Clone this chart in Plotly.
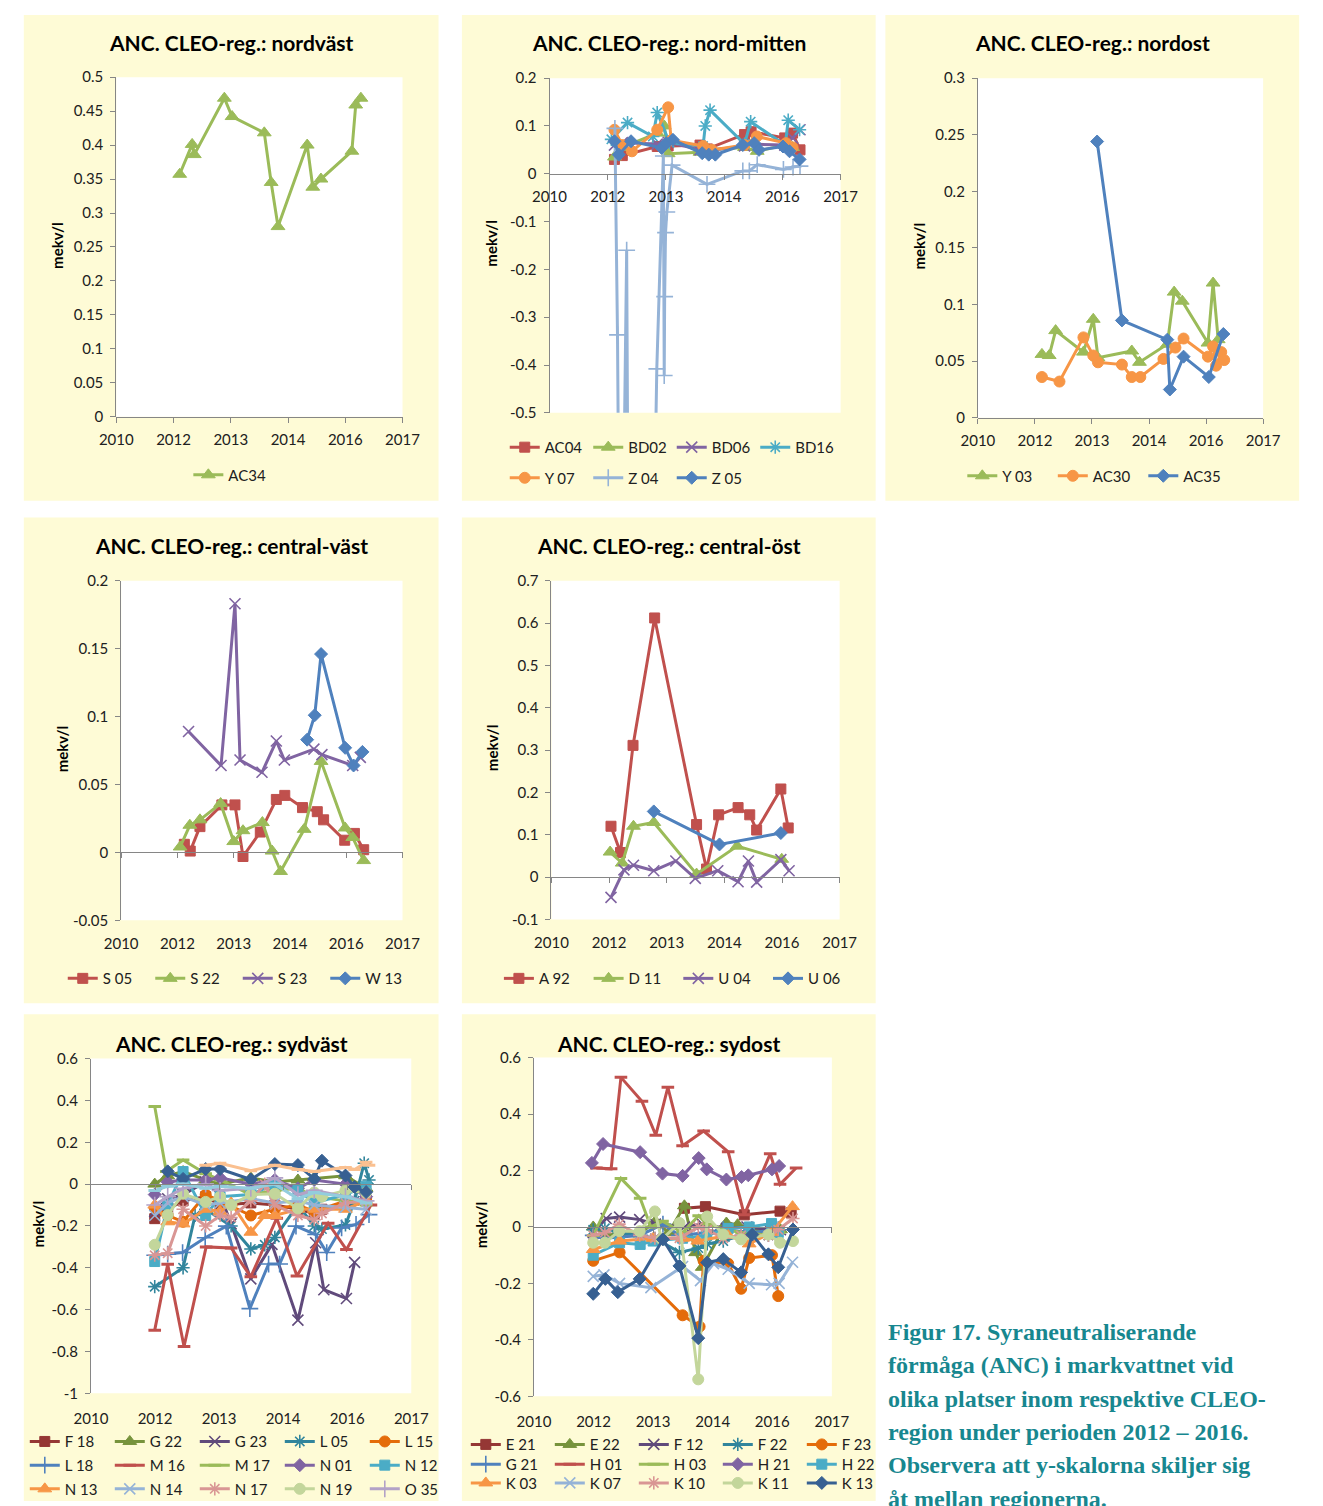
import numpy as np
import plotly.graph_objects as go

W, H = 1323, 1506
FONT = "Lato"
TEXT = "#202020"
AXIS_GREY = "#868686"
CREAM = "#FEFBD6"
CAPTION_COLOR = "#17878F"

# Date axis shared by every panel: decimal years, ticks every 16 months from Nov 2010
X_START = 2010 + 10 / 12
X_STEP = 16 / 12
X_TICKTEXT = ["2010", "2012", "2013", "2014", "2016", "2017"]

# Office palette: normal, darker and lighter shades
BLUE, RED, GREEN, PURPLE, AQUA, ORANGE = "#4F81BD", "#C0504D", "#9BBB59", "#8064A2", "#4BACC6", "#F79646"
D_BLUE, D_RED, D_GREEN, D_PURPLE, D_AQUA, D_ORANGE = "#376092", "#953735", "#77933C", "#604A7B", "#31859C", "#E46C0A"
L_BLUE, L_RED, L_GREEN, L_PURPLE, L_AQUA, L_ORANGE = "#95B3D7", "#D99694", "#C3D69B", "#B3A2C7", "#93CDDD", "#FAC090"

# ---------------- nordväst ----------------
t_AC34 = [2012.31, 2012.60, 2012.65, 2013.35, 2013.53, 2014.28, 2014.44, 2014.60, 2015.28, 2015.41, 2015.60, 2016.32, 2016.41, 2016.53]
v_AC34 = [0.357, 0.401, 0.386, 0.469, 0.442, 0.418, 0.345, 0.280, 0.400, 0.338, 0.350, 0.391, 0.459, 0.469]

# ---------------- nord-mitten ----------------
t_AC04 = [2012.32, 2012.50, 2013.30, 2013.55, 2014.28, 2014.45, 2015.30, 2015.45, 2016.22, 2016.40, 2016.57]
v_AC04 = [0.030, 0.038, 0.057, 0.058, 0.060, 0.052, 0.082, 0.088, 0.075, 0.085, 0.050]
t_BD02 = [2012.32, 2012.50, 2013.30, 2013.46, 2013.55, 2014.28, 2014.45, 2015.30, 2015.59, 2016.22, 2016.40]
v_BD02 = [0.035, 0.055, 0.085, 0.100, 0.042, 0.045, 0.050, 0.055, 0.047, 0.060, 0.055]
t_BD06 = [2012.32, 2012.50, 2013.30, 2013.55, 2014.28, 2014.45, 2015.30, 2015.45, 2016.22, 2016.40, 2016.57]
v_BD06 = [0.060, 0.065, 0.062, 0.066, 0.050, 0.048, 0.058, 0.062, 0.060, 0.075, 0.092]
t_BD16 = [2012.25, 2012.62, 2013.20, 2013.30, 2013.58, 2014.35, 2014.40, 2014.51, 2015.30, 2015.44, 2016.23, 2016.30, 2016.56]
v_BD16 = [0.072, 0.107, 0.078, 0.128, 0.065, 0.058, 0.100, 0.133, 0.062, 0.109, 0.060, 0.112, 0.092]
t_Y07 = [2012.32, 2012.50, 2012.72, 2013.30, 2013.55, 2013.62, 2014.35, 2014.55, 2015.30, 2015.58, 2016.25, 2016.40]
v_Y07 = [0.092, 0.060, 0.047, 0.092, 0.139, 0.070, 0.058, 0.050, 0.060, 0.078, 0.064, 0.055]
t_Z04 = [2012.33, 2012.39, 2012.46, 2012.60, 2012.66, 2013.20, 2013.29, 2013.44, 2013.46, 2013.47, 2013.49, 2013.52,
         2013.64, 2014.44, 2015.26, 2015.41, 2015.59, 2016.19, 2016.41, 2016.57]
v_Z04 = [0.095, -0.337, -1.200, -0.160, -1.300, -0.900, -0.408, 0.037, -0.422, -0.257, -0.123, -0.080,
         0.018, -0.022, 0.006, 0.006, 0.019, 0.009, 0.014, 0.016]
t_Z05 = [2012.32, 2012.42, 2012.70, 2013.40, 2013.51, 2013.66, 2014.33, 2014.48, 2014.63, 2015.26, 2015.52, 2015.63, 2016.18, 2016.33, 2016.56]
v_Z05 = [0.068, 0.040, 0.068, 0.054, 0.064, 0.071, 0.043, 0.040, 0.040, 0.060, 0.064, 0.050, 0.057, 0.047, 0.030]

# ---------------- nordost ----------------
t_Y03 = [2012.33, 2012.50, 2012.65, 2013.30, 2013.53, 2013.64, 2014.43, 2014.61, 2015.26, 2015.42, 2015.61, 2016.21, 2016.33, 2016.45]
v_Y03 = [0.056, 0.055, 0.077, 0.058, 0.087, 0.053, 0.059, 0.049, 0.065, 0.111, 0.103, 0.066, 0.119, 0.069]
t_AC30 = [2012.33, 2012.74, 2013.30, 2013.53, 2013.64, 2014.20, 2014.43, 2014.63, 2015.17, 2015.45, 2015.64, 2016.21, 2016.33, 2016.40, 2016.52, 2016.59]
v_AC30 = [0.036, 0.032, 0.071, 0.055, 0.049, 0.047, 0.036, 0.036, 0.052, 0.062, 0.070, 0.054, 0.063, 0.046, 0.058, 0.051]
t_AC35 = [2013.62, 2014.20, 2015.26, 2015.32, 2015.64, 2016.23, 2016.57]
v_AC35 = [0.244, 0.086, 0.069, 0.025, 0.054, 0.036, 0.074]

# ---------------- central-väst ----------------
t_S05 = [2012.33, 2012.47, 2012.70, 2013.22, 2013.53, 2013.72, 2014.13, 2014.51, 2014.71, 2015.13, 2015.48, 2015.63, 2016.13, 2016.36, 2016.58]
v_S05 = [0.006, 0.001, 0.019, 0.035, 0.035, -0.003, 0.015, 0.039, 0.042, 0.033, 0.030, 0.024, 0.009, 0.014, 0.002]
t_S22 = [2012.23, 2012.46, 2012.70, 2013.19, 2013.50, 2013.72, 2014.18, 2014.41, 2014.61, 2015.17, 2015.57, 2016.14, 2016.32, 2016.58]
v_S22 = [0.004, 0.020, 0.024, 0.036, 0.008, 0.016, 0.022, 0.001, -0.014, 0.017, 0.067, 0.018, 0.011, -0.006]
t_S23 = [2012.43, 2013.20, 2013.53, 2013.65, 2014.17, 2014.51, 2014.70, 2015.40, 2015.59, 2016.32, 2016.50]
v_S23 = [0.089, 0.064, 0.183, 0.068, 0.059, 0.082, 0.068, 0.076, 0.072, 0.064, 0.070]
t_W13 = [2015.24, 2015.42, 2015.57, 2016.14, 2016.34, 2016.55]
v_W13 = [0.083, 0.101, 0.146, 0.077, 0.064, 0.074]

# ---------------- central-öst ----------------
t_A92 = [2012.21, 2012.43, 2012.72, 2013.22, 2014.19, 2014.42, 2014.70, 2015.15, 2015.42, 2015.58, 2016.14, 2016.31]
v_A92 = [0.120, 0.058, 0.311, 0.612, 0.124, 0.019, 0.147, 0.164, 0.147, 0.111, 0.208, 0.116]
t_D11 = [2012.19, 2012.47, 2012.73, 2013.20, 2014.19, 2015.13, 2016.16]
v_D11 = [0.059, 0.033, 0.120, 0.129, 0.007, 0.073, 0.042]
t_U04 = [2012.21, 2012.51, 2012.73, 2013.20, 2013.71, 2014.16, 2014.68, 2015.15, 2015.39, 2015.58, 2016.14, 2016.33]
v_U04 = [-0.048, 0.017, 0.028, 0.015, 0.038, -0.003, 0.015, -0.011, 0.038, -0.012, 0.041, 0.015]
t_U06 = [2013.20, 2014.72, 2016.14]
v_U06 = [0.155, 0.077, 0.104]

# ---------------- sydväst ----------------
t_F18 = [2012.16, 2012.43, 2012.75, 2013.22, 2013.52, 2014.16, 2014.66, 2015.14, 2015.48, 2015.64, 2016.13, 2016.56]
v_F18 = [-0.165, -0.120, -0.080, -0.060, -0.100, -0.090, -0.100, -0.120, -0.140, -0.120, -0.100, -0.080]
t_G22 = [2012.16, 2012.43, 2012.75, 2013.22, 2013.52, 2014.16, 2014.66, 2015.14, 2015.48, 2016.13, 2016.56]
v_G22 = [0.000, 0.040, 0.060, 0.020, 0.000, 0.030, 0.010, 0.020, 0.030, 0.040, -0.020]
t_G23 = [2012.16, 2012.43, 2012.75, 2013.22, 2013.52, 2013.75, 2014.16, 2014.60, 2015.14, 2015.51, 2015.68, 2016.15, 2016.32]
v_G23 = [-0.130, -0.070, -0.050, 0.010, -0.050, -0.190, -0.453, -0.288, -0.650, -0.280, -0.505, -0.547, -0.374]
t_L05 = [2012.16, 2012.75, 2013.00, 2013.22, 2013.75, 2014.16, 2014.45, 2014.66, 2015.14, 2015.48, 2015.64, 2016.13, 2016.32, 2016.52, 2016.62]
v_L05 = [-0.490, -0.400, -0.150, -0.120, -0.200, -0.310, -0.290, -0.255, -0.100, -0.200, -0.215, -0.195, -0.080, 0.100, 0.020]
t_L15 = [2012.16, 2012.43, 2012.75, 2013.22, 2013.52, 2014.16, 2014.66, 2015.14, 2015.48, 2016.13, 2016.56]
v_L15 = [-0.115, -0.150, -0.180, -0.050, -0.080, -0.150, -0.120, -0.100, -0.130, -0.080, -0.070]
t_L18 = [2012.16, 2012.43, 2012.74, 2013.21, 2013.65, 2014.14, 2014.53, 2014.76, 2015.10, 2015.51, 2015.74, 2016.05, 2016.35, 2016.62]
v_L18 = [-0.340, -0.335, -0.327, -0.256, -0.201, -0.595, -0.382, -0.382, -0.201, -0.241, -0.327, -0.209, -0.193, -0.146]
t_M16 = [2012.16, 2012.43, 2012.77, 2013.23, 2013.75, 2014.16, 2014.70, 2015.12, 2015.77, 2016.15, 2016.66]
v_M16 = [-0.698, -0.383, -0.776, -0.300, -0.305, -0.443, -0.163, -0.439, -0.187, -0.313, -0.100]
t_M17 = [2012.16, 2012.40, 2012.75, 2013.22, 2013.52, 2014.16, 2014.66, 2015.14, 2015.48, 2016.13, 2016.56]
v_M17 = [0.371, 0.060, 0.115, 0.050, 0.020, -0.050, -0.030, -0.020, -0.060, -0.080, -0.100]
t_N01 = [2012.16, 2012.43, 2012.75, 2013.22, 2013.52, 2014.16, 2014.66, 2015.14, 2015.48, 2016.13, 2016.56]
v_N01 = [-0.050, 0.010, 0.020, 0.020, 0.030, 0.000, 0.020, -0.020, 0.020, 0.000, -0.060]
t_N12 = [2012.16, 2012.43, 2012.75, 2013.22, 2013.52, 2014.16, 2014.66, 2015.14, 2015.48, 2016.13, 2016.56]
v_N12 = [-0.370, -0.100, 0.060, -0.150, -0.060, -0.050, 0.000, -0.030, -0.090, -0.050, -0.010]
t_N13 = [2012.16, 2012.43, 2012.75, 2013.22, 2013.52, 2013.75, 2014.16, 2014.45, 2014.66, 2015.14, 2015.48, 2016.13, 2016.56]
v_N13 = [-0.100, -0.180, -0.190, -0.120, -0.130, -0.090, -0.230, -0.150, -0.150, -0.120, -0.120, -0.120, -0.080]
t_N14 = [2012.16, 2012.43, 2012.75, 2013.22, 2013.52, 2014.16, 2014.66, 2015.14, 2015.48, 2016.13, 2016.56]
v_N14 = [-0.150, -0.090, -0.060, -0.100, -0.090, -0.070, -0.090, -0.080, -0.100, -0.110, -0.120]
t_N17 = [2012.16, 2012.43, 2012.75, 2013.22, 2013.52, 2013.75, 2014.16, 2014.45, 2014.66, 2015.14, 2015.48, 2015.64, 2016.13, 2016.56]
v_N17 = [-0.340, -0.330, -0.120, -0.200, -0.150, -0.160, -0.080, 0.000, -0.100, -0.150, -0.170, -0.140, -0.090, -0.080]
t_N19 = [2012.16, 2012.43, 2012.75, 2013.22, 2013.52, 2013.75, 2014.16, 2014.66, 2015.14, 2015.48, 2015.64, 2016.13, 2016.56]
v_N19 = [-0.290, -0.148, -0.046, -0.085, -0.060, -0.100, -0.050, -0.046, -0.116, -0.040, -0.060, -0.030, -0.040]
t_O35 = [2012.16, 2012.43, 2012.75, 2013.22, 2013.52, 2014.16, 2014.66, 2015.14, 2015.48, 2016.13, 2016.56]
v_O35 = [-0.100, -0.060, -0.020, 0.000, -0.030, -0.020, 0.030, -0.050, -0.030, -0.060, -0.080]
# three further sydväst series whose legend entries fall outside the frame
t_SV16 = [2012.43, 2012.75, 2013.22, 2013.52, 2014.16, 2014.66, 2015.14, 2015.48, 2015.64, 2016.13, 2016.32, 2016.56]
v_SV16 = [0.061, 0.025, 0.072, 0.072, 0.022, 0.096, 0.091, 0.025, 0.112, 0.041, -0.014, -0.038]
t_SV17 = [2012.16, 2012.43, 2012.75, 2013.22, 2013.52, 2014.16, 2014.66, 2015.14, 2015.48, 2016.13, 2016.56]
v_SV17 = [-0.030, -0.010, 0.000, -0.020, -0.010, -0.020, 0.000, -0.070, -0.040, -0.060, -0.090]
t_SV18 = [2013.22, 2013.52, 2014.16, 2014.66, 2015.14, 2015.48, 2016.13, 2016.32, 2016.56, 2016.62]
v_SV18 = [0.090, 0.100, 0.064, 0.090, 0.070, 0.060, 0.080, 0.070, 0.104, 0.090]

# ---------------- sydost ----------------
t_E21 = [2014.20, 2014.67, 2015.54, 2016.34, 2016.59]
v_E21 = [0.066, 0.072, 0.043, 0.056, 0.050]
t_E22 = [2012.16, 2012.45, 2012.75, 2013.20, 2013.55, 2013.85, 2014.20, 2014.45, 2014.60, 2015.14, 2015.39, 2016.10, 2016.35]
v_E22 = [0.000, -0.030, -0.020, -0.025, 0.020, -0.020, 0.075, -0.091, -0.143, 0.014, 0.008, -0.020, -0.010]
t_F12 = [2012.16, 2012.45, 2012.75, 2013.20, 2013.55, 2014.20, 2014.60, 2015.14, 2015.60, 2016.10, 2016.35]
v_F12 = [-0.020, 0.030, 0.035, 0.026, 0.010, 0.000, 0.010, -0.005, 0.000, -0.010, -0.010]
t_F22 = [2012.16, 2012.42, 2012.74, 2013.20, 2013.54, 2014.09, 2014.51, 2014.71, 2015.07, 2015.47, 2016.08, 2016.30]
v_F22 = [-0.010, -0.005, -0.020, -0.030, -0.040, -0.090, -0.075, -0.060, -0.050, -0.030, -0.030, -0.020]
t_F23 = [2012.16, 2012.75, 2014.16, 2014.54, 2014.63, 2015.18, 2015.47, 2015.65, 2016.16, 2016.30]
v_F23 = [-0.120, -0.090, -0.313, -0.353, -0.120, -0.130, -0.219, -0.110, -0.100, -0.245]
t_G21 = [2012.16, 2012.42, 2013.20, 2013.72, 2014.09, 2014.71, 2015.07, 2015.72, 2016.30]
v_G21 = [-0.030, -0.040, -0.030, 0.010, -0.030, -0.020, -0.010, -0.020, -0.010]
t_H01 = [2012.23, 2012.56, 2012.78, 2013.25, 2013.56, 2013.83, 2014.16, 2014.63, 2015.18, 2015.54, 2016.12, 2016.34, 2016.70]
v_H01 = [0.209, 0.206, 0.530, 0.445, 0.325, 0.495, 0.288, 0.340, 0.266, 0.043, 0.259, 0.151, 0.209]
t_H03 = [2012.16, 2012.78, 2013.21, 2013.45, 2013.71, 2014.16, 2014.52, 2014.70, 2015.14, 2015.48, 2016.16, 2016.32]
v_H03 = [-0.030, 0.172, 0.102, 0.000, 0.020, -0.020, 0.040, 0.010, -0.010, -0.020, -0.030, -0.020]
t_H21 = [2012.13, 2012.38, 2013.21, 2013.71, 2014.16, 2014.52, 2014.70, 2015.14, 2015.48, 2015.63, 2016.16, 2016.32]
v_H21 = [0.227, 0.294, 0.265, 0.189, 0.181, 0.244, 0.204, 0.168, 0.177, 0.183, 0.204, 0.216]
t_H22 = [2012.16, 2012.75, 2013.21, 2013.50, 2014.16, 2014.70, 2015.18, 2015.65, 2016.15, 2016.30]
v_H22 = [-0.100, -0.056, -0.062, -0.050, -0.040, -0.030, -0.005, 0.000, 0.012, -0.020]
t_K03 = [2012.16, 2012.75, 2013.50, 2014.16, 2014.50, 2015.18, 2015.65, 2016.15, 2016.62]
v_K03 = [-0.080, -0.050, -0.040, -0.040, -0.050, -0.030, -0.060, -0.020, 0.072]
t_K07 = [2012.16, 2012.40, 2012.75, 2013.45, 2014.16, 2014.56, 2014.85, 2015.18, 2015.65, 2016.15, 2016.32, 2016.62]
v_K07 = [-0.175, -0.170, -0.200, -0.215, -0.140, -0.190, -0.130, -0.150, -0.200, -0.205, -0.200, -0.125]
t_K10 = [2012.16, 2012.42, 2012.74, 2013.20, 2013.54, 2014.09, 2014.51, 2014.71, 2015.07, 2015.47, 2016.08, 2016.30, 2016.63]
v_K10 = [-0.030, -0.020, 0.010, -0.030, -0.040, -0.040, 0.000, -0.010, -0.040, -0.030, -0.030, -0.010, 0.030]
t_K11 = [2012.16, 2012.42, 2012.74, 2013.20, 2013.54, 2013.69, 2014.09, 2014.51, 2014.71, 2015.07, 2015.47, 2016.08, 2016.34, 2016.63]
v_K11 = [-0.056, -0.056, -0.015, -0.015, 0.055, -0.044, 0.014, -0.540, 0.037, -0.027, -0.044, -0.027, -0.056, -0.050]
t_K13 = [2012.16, 2012.43, 2012.71, 2013.20, 2013.72, 2014.09, 2014.51, 2014.71, 2015.07, 2015.47, 2015.72, 2016.08, 2016.30, 2016.63]
v_K13 = [-0.237, -0.184, -0.231, -0.184, -0.044, -0.138, -0.394, -0.126, -0.114, -0.161, -0.027, -0.097, -0.143, -0.009]

# Marker shapes used by the series
MARKERS = {
    "square":   dict(symbol="square", size=10),
    "triangle": dict(symbol="triangle-up", size=12),
    "x":        dict(symbol="x-thin-open", size=11, lw=1.6),
    "star":     dict(symbol="asterisk-open", size=11, lw=1.6),
    "circle":   dict(symbol="circle", size=11),
    "plus":     dict(symbol="cross-thin-open", size=12, lw=1.6),
    "dash":     dict(symbol="line-ew-open", size=9, lw=3),
    "diamond":  dict(symbol="diamond", size=10),
}

# Panel layout: frame box and plot area in pixels (x0, y0, x1, y1)
PANELS = [
    dict(title="ANC. CLEO-reg.: nordväst", box=(7, 5, 433, 497), plot=(102, 68, 396, 412),
         yrange=(0, 0.5), dtick=0.05, low=False,
         series=[("AC34", t_AC34, v_AC34, GREEN, "triangle")],
         legend_rows=[(["AC34"], 182, 471)], spacing=84),
    dict(title="ANC. CLEO-reg.: nord-mitten", box=(457, 5, 882, 497), plot=(547, 69, 846, 408),
         yrange=(-0.5, 0.2), dtick=0.1, low=False,
         series=[("AC04", t_AC04, v_AC04, RED, "square"),
                 ("BD02", t_BD02, v_BD02, GREEN, "triangle"),
                 ("BD06", t_BD06, v_BD06, PURPLE, "x"),
                 ("BD16", t_BD16, v_BD16, AQUA, "star"),
                 ("Y 07", t_Y07, v_Y07, ORANGE, "circle"),
                 ("Z 04", t_Z04, v_Z04, L_BLUE, "plus"),
                 ("Z 05", t_Z05, v_Z05, BLUE, "diamond")],
         legend_rows=[(["AC04", "BD02", "BD06", "BD16"], 507, 443), (["Y 07", "Z 04", "Z 05"], 507, 474)],
         spacing=83.5),
    dict(title="ANC. CLEO-reg.: nordost", box=(892, 5, 1317, 497), plot=(987, 69, 1280, 413),
         yrange=(0, 0.3), dtick=0.05, low=False,
         series=[("Y 03", t_Y03, v_Y03, GREEN, "triangle"),
                 ("AC30", t_AC30, v_AC30, ORANGE, "circle"),
                 ("AC35", t_AC35, v_AC35, BLUE, "diamond")],
         legend_rows=[(["Y 03", "AC30", "AC35"], 977, 472)], spacing=90.5),
    dict(title="ANC. CLEO-reg.: central-väst", box=(7, 514, 433, 1006), plot=(107, 578, 396, 922),
         yrange=(-0.05, 0.2), dtick=0.05, low=True,
         series=[("S 05", t_S05, v_S05, RED, "square"),
                 ("S 22", t_S22, v_S22, GREEN, "triangle"),
                 ("S 23", t_S23, v_S23, PURPLE, "x"),
                 ("W 13", t_W13, v_W13, BLUE, "diamond")],
         legend_rows=[(["S 05", "S 22", "S 23", "W 13"], 53, 981)], spacing=87.5),
    dict(title="ANC. CLEO-reg.: central-öst", box=(457, 514, 882, 1006), plot=(549, 578, 845, 921),
         yrange=(-0.1, 0.7), dtick=0.1, low=True,
         series=[("A 92", t_A92, v_A92, RED, "square"),
                 ("D 11", t_D11, v_D11, GREEN, "triangle"),
                 ("U 04", t_U04, v_U04, PURPLE, "x"),
                 ("U 06", t_U06, v_U06, BLUE, "diamond")],
         legend_rows=[(["A 92", "D 11", "U 04", "U 06"], 501, 981)], spacing=89.7),
    dict(title="ANC. CLEO-reg.: sydväst", box=(7, 1017, 433, 1510), plot=(76, 1062, 405, 1401),
         yrange=(-1, 0.6), dtick=0.2, low=True,
         series=[("F 18", t_F18, v_F18, D_RED, "square"),
                 ("G 22", t_G22, v_G22, D_GREEN, "triangle"),
                 ("G 23", t_G23, v_G23, D_PURPLE, "x"),
                 ("L 05", t_L05, v_L05, D_AQUA, "star"),
                 ("L 15", t_L15, v_L15, D_ORANGE, "circle"),
                 ("L 18", t_L18, v_L18, BLUE, "plus"),
                 ("M 16", t_M16, v_M16, RED, "dash"),
                 ("M 17", t_M17, v_M17, GREEN, "dash"),
                 ("N 01", t_N01, v_N01, PURPLE, "diamond"),
                 ("N 12", t_N12, v_N12, AQUA, "square"),
                 ("N 13", t_N13, v_N13, ORANGE, "triangle"),
                 ("N 14", t_N14, v_N14, L_BLUE, "x"),
                 ("N 17", t_N17, v_N17, L_RED, "star"),
                 ("N 19", t_N19, v_N19, L_GREEN, "circle"),
                 ("O 35", t_O35, v_O35, L_PURPLE, "plus"),
                 ("serie 16", t_SV16, v_SV16, D_BLUE, "diamond"),
                 ("serie 17", t_SV17, v_SV17, L_AQUA, "dash"),
                 ("serie 18", t_SV18, v_SV18, L_ORANGE, "dash")],
         legend_rows=[(["F 18", "G 22", "G 23", "L 05", "L 15"], 14, 1450),
                      (["L 18", "M 16", "M 17", "N 01", "N 12"], 14, 1474),
                      (["N 13", "N 14", "N 17", "N 19", "O 35"], 14, 1498)], spacing=85),
    dict(title="ANC. CLEO-reg.: sydost", box=(457, 1017, 882, 1510), plot=(531, 1061, 837, 1404),
         yrange=(-0.6, 0.6), dtick=0.2, low=True,
         series=[("E 21", t_E21, v_E21, D_RED, "square"),
                 ("E 22", t_E22, v_E22, D_GREEN, "triangle"),
                 ("F 12", t_F12, v_F12, D_PURPLE, "x"),
                 ("F 22", t_F22, v_F22, D_AQUA, "star"),
                 ("F 23", t_F23, v_F23, D_ORANGE, "circle"),
                 ("G 21", t_G21, v_G21, BLUE, "plus"),
                 ("H 01", t_H01, v_H01, RED, "dash"),
                 ("H 03", t_H03, v_H03, GREEN, "dash"),
                 ("H 21", t_H21, v_H21, PURPLE, "diamond"),
                 ("H 22", t_H22, v_H22, AQUA, "square"),
                 ("K 03", t_K03, v_K03, ORANGE, "triangle"),
                 ("K 07", t_K07, v_K07, L_BLUE, "x"),
                 ("K 10", t_K10, v_K10, L_RED, "star"),
                 ("K 11", t_K11, v_K11, L_GREEN, "circle"),
                 ("K 13", t_K13, v_K13, D_BLUE, "diamond")],
         legend_rows=[(["E 21", "E 22", "F 12", "F 22", "F 23"], 467, 1453),
                      (["G 21", "H 01", "H 03", "H 21", "H 22"], 467, 1473),
                      (["K 03", "K 07", "K 10", "K 11", "K 13"], 467, 1492)], spacing=84),
]

CAPTION_LINES = [
    "Figur 17. Syraneutraliserande",
    "förmåga (ANC) i markvattnet vid",
    "olika platser inom respektive CLEO-",
    "region under perioden 2012 – 2016.",
    "Observera att y-skalorna skiljer sig",
    "åt mellan regionerna.",
]

fig = go.Figure()
layout = {}
shapes, annotations = [], []
x_ticks = [X_START + k * X_STEP for k in range(len(X_TICKTEXT))]
x_range = [x_ticks[0], x_ticks[-1]]
legend_count = 0

for i, p in enumerate(PANELS, start=1):
    sfx = "" if i == 1 else str(i)
    bx0, by0, bx1, by1 = p["box"]
    x0, y0, x1, y1 = p["plot"]
    dom_x = [x0 / W, x1 / W]
    dom_y = [1 - y1 / H, 1 - y0 / H]
    lo, hi = p["yrange"]
    frac0 = (0 - lo) / (hi - lo)
    zero_pos = dom_y[0] + frac0 * (dom_y[1] - dom_y[0])
    drop = frac0 * (y1 - y0) if p["low"] else 0.0

    # frame and white plot area
    shapes.append(dict(type="rect", xref="paper", yref="paper", layer="below",
                       x0=bx0 / W, x1=bx1 / W, y0=1 - by1 / H, y1=1 - by0 / H,
                       fillcolor=CREAM, line=dict(width=0)))
    shapes.append(dict(type="rect", xref="paper", yref="paper", layer="below",
                       x0=dom_x[0], x1=dom_x[1], y0=dom_y[0], y1=dom_y[1],
                       fillcolor="white", line=dict(width=0)))

    yvals = [round(float(v), 4) + 0.0 for v in np.arange(lo, hi + p["dtick"] / 2, p["dtick"])]
    yvals = [0.0 if abs(v) < 1e-9 else v for v in yvals]
    layout[f"xaxis{sfx}"] = dict(
        domain=dom_x, range=x_range, tickvals=x_ticks, ticktext=X_TICKTEXT,
        showline=True, linecolor=AXIS_GREY, linewidth=1, ticks="outside", ticklen=5,
        tickcolor=AXIS_GREY, showgrid=False, zeroline=False,
        tickfont=dict(family=FONT, size=15, color=TEXT),
        anchor="free", position=zero_pos, ticklabelstandoff=int(round(drop)) + 4,
    )
    layout[f"yaxis{sfx}"] = dict(
        domain=dom_y, range=[lo, hi], tickvals=yvals, ticktext=[f"{v:g}" for v in yvals],
        showline=True, linecolor=AXIS_GREY, linewidth=1, ticks="outside", ticklen=5,
        tickcolor=AXIS_GREY, showgrid=False, zeroline=False, anchor=f"x{sfx}",
        tickfont=dict(family=FONT, size=15, color=TEXT), ticklabelstandoff=4,
    )

    # legends: one per row
    name_to_legend = {}
    for names, lx, ly in p["legend_rows"]:
        legend_count += 1
        lid = "legend" if legend_count == 1 else f"legend{legend_count}"
        for n in names:
            name_to_legend[n] = lid
        layout[lid] = dict(
            orientation="h", x=(lx - 6) / W, xanchor="left", y=1 - ly / H, yanchor="middle",
            entrywidth=p["spacing"] - 45, entrywidthmode="pixels", itemwidth=30,
            bgcolor="rgba(0,0,0,0)", borderwidth=0, traceorder="normal",
            font=dict(family=FONT, size=15, color=TEXT),
        )

    for name, t, v, color, mk in p["series"]:
        m = MARKERS[mk]
        marker = dict(symbol=m["symbol"], size=m["size"], color=color,
                      line=dict(width=m.get("lw", 1), color=color))
        lid = name_to_legend.get(name)
        fig.add_trace(go.Scatter(
            x=t, y=v, mode="lines+markers", name=name,
            line=dict(color=color, width=3), marker=marker,
            xaxis=f"x{sfx}", yaxis=f"y{sfx}",
            legend=lid if lid else "legend", showlegend=lid is not None,
        ))

    # panel title and y-axis title
    annotations.append(dict(text=f"<b>{p['title']}</b>", xref="paper", yref="paper",
                            x=(bx0 + bx1) / 2 / W, y=1 - (by0 + 28 if i < 6 else by0 + 30) / H,
                            xanchor="center", yanchor="middle", showarrow=False,
                            font=dict(family=FONT, size=21, color="black")))
    annotations.append(dict(text="<b>mekv/l</b>", xref="paper", yref="paper", textangle=-90,
                            x=(x0 - 61) / W if i not in (6, 7) else (x0 - 54) / W,
                            y=1 - ((y0 + y1) / 2 - 2) / H,
                            xanchor="center", yanchor="middle", showarrow=False,
                            font=dict(family=FONT, size=15, color="black")))

# figure caption, the last line running off the page bottom
for k, line in enumerate(CAPTION_LINES):
    annotations.append(dict(text=f"<b>{line}</b>", xref="paper", yref="paper",
                            x=893 / W, y=1 - (1339 + 33.75 * k) / H, xanchor="left", yanchor="middle",
                            showarrow=False,
                            font=dict(family="Liberation Serif", size=24, color=CAPTION_COLOR)))

fig.update_layout(
    width=W, height=H, margin=dict(l=0, r=0, t=0, b=0),
    paper_bgcolor="white", plot_bgcolor="rgba(0,0,0,0)",
    shapes=shapes, annotations=annotations, hovermode=False,
    **layout,
)

fig.write_html("out.html")
